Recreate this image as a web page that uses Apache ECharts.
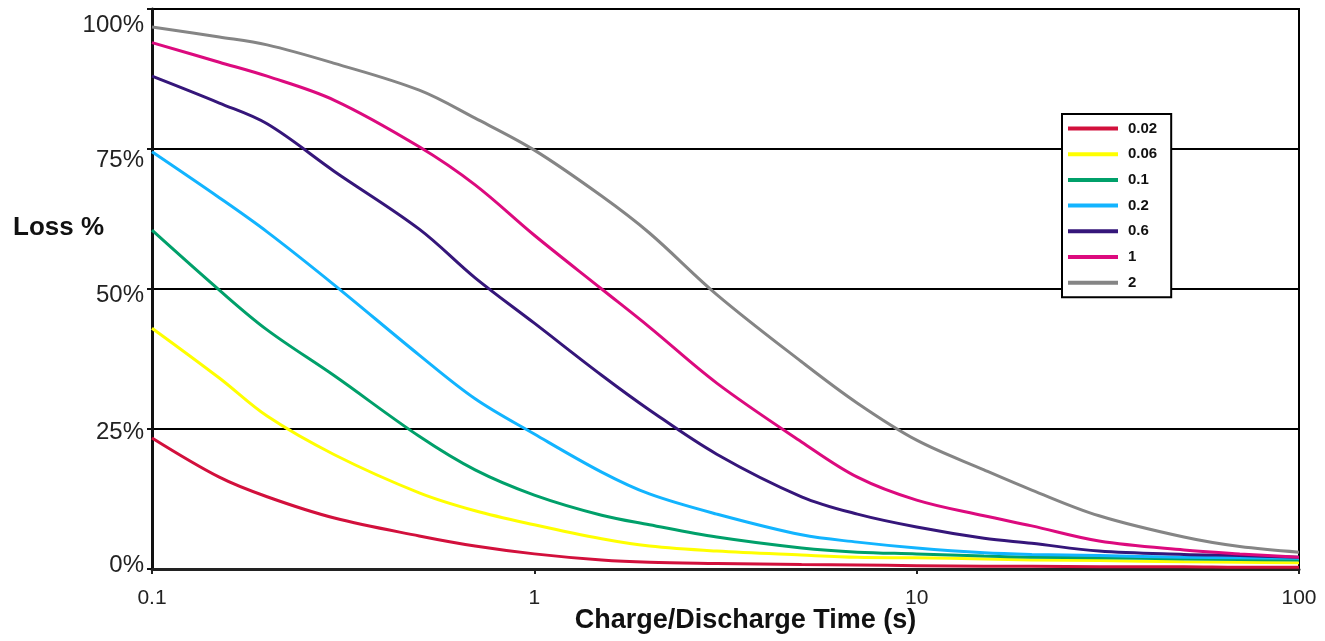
<!DOCTYPE html>
<html>
<head>
<meta charset="utf-8">
<script src="https://cdn.jsdelivr.net/npm/echarts@6/dist/echarts.min.js"></script>
<style>
html,body{margin:0;padding:0;background:#fff;}
#chart{width:1325px;height:641px;}
</style>
</head>
<body>
<div id="chart"></div>
<script>
// Charge/Discharge time (s)
const times = [0.1, 0.15, 0.2, 0.3, 0.5, 0.7, 1, 1.5, 2, 3, 5, 7, 10, 15, 20, 30, 50, 70, 100];
const seriesNames = ['0.02', '0.06', '0.1', '0.2', '0.6', '1', '2'];
// Loss fraction for each series
const loss002 = [0.234, 0.164, 0.129, 0.091, 0.059, 0.041, 0.027, 0.016, 0.012, 0.010, 0.008, 0.007, 0.006, 0.005, 0.005, 0.004, 0.004, 0.003, 0.003];
const loss006 = [0.430, 0.341, 0.273, 0.204, 0.136, 0.104, 0.079, 0.054, 0.041, 0.032, 0.025, 0.021, 0.020, 0.018, 0.016, 0.015, 0.013, 0.012, 0.011];
const loss01  = [0.605, 0.498, 0.427, 0.345, 0.237, 0.177, 0.132, 0.096, 0.079, 0.057, 0.0375, 0.030, 0.027, 0.023, 0.021, 0.020, 0.018, 0.017, 0.016];
const loss02  = [0.745, 0.663, 0.602, 0.507, 0.382, 0.304, 0.241, 0.173, 0.134, 0.098, 0.061, 0.048, 0.0375, 0.029, 0.026, 0.024, 0.021, 0.020, 0.019];
const loss06  = [0.880, 0.832, 0.795, 0.710, 0.607, 0.520, 0.439, 0.346, 0.284, 0.205, 0.129, 0.098, 0.075, 0.055, 0.046, 0.032, 0.026, 0.024, 0.021];
const loss1   = [0.940, 0.905, 0.880, 0.837, 0.754, 0.686, 0.596, 0.500, 0.432, 0.332, 0.227, 0.164, 0.123, 0.095, 0.077, 0.050, 0.034, 0.027, 0.021];
const loss2   = [0.968, 0.950, 0.936, 0.903, 0.855, 0.805, 0.748, 0.666, 0.600, 0.490, 0.370, 0.296, 0.230, 0.177, 0.141, 0.095, 0.057, 0.040, 0.030];
const yTicks = [0, 0.25, 0.5, 0.75, 1];
const xTickLabels = {'0.1': '0.1', '1': '1', '10': '10', '100': '100'};

const allLoss = [loss002, loss006, loss01, loss02, loss06, loss1, loss2];
const colors = ['#d2103c', '#ffff00', '#00a06a', '#12b4ff', '#35167a', '#dc0a7e', '#858585'];

// y label vertical nudges (the original's labels sit slightly below their gridlines)
const yLabelStyle = {
  l0:   {padding: [0, 0, 8, 0]},
  l25:  {padding: [6, 0, 0, 0]},
  l50:  {padding: [12, 0, 0, 0]},
  l75:  {padding: [22, 0, 0, 0]},
  l100: {padding: [32, 0, 0, 0]}
};
const yLabelKey = {0: 'l0', 25: 'l25', 50: 'l50', 75: 'l75', 100: 'l100'};

const chart = echarts.init(document.getElementById('chart'));
chart.setOption({
  animation: false,
  backgroundColor: '#fff',
  color: colors,
  title: {
    text: 'Loss %',
    left: 8, top: 210,
    textStyle: {fontFamily: 'Liberation Sans', fontWeight: 'bold', fontSize: 26, color: '#111'}
  },
  grid: {left: 152, right: 26, top: 9, bottom: 72, outerBoundsMode: 'none', containLabel: false,
    show: true, borderColor: '#000', borderWidth: 2, backgroundColor: 'transparent'},
  legend: {
    orient: 'vertical',
    left: 1062, top: 114,
    padding: [7, 14, 7, 6],
    itemWidth: 50, itemHeight: 4,
    itemGap: 10.7,
    icon: 'rect',
    backgroundColor: '#fff',
    borderColor: '#000', borderWidth: 2,
    textStyle: {fontFamily: 'Liberation Sans', fontWeight: 'bold', fontSize: 15, lineHeight: 14, color: '#111', padding: [0, 0, 0, 5]},
    data: seriesNames
  },
  xAxis: {
    type: 'log', logBase: 10, min: 0.1, max: 100,
    name: 'Charge/Discharge Time (s)', nameLocation: 'middle', nameGap: 38, nameMoveOverlap: false,
    nameTextStyle: {fontFamily: 'Liberation Sans', fontWeight: 'bold', fontSize: 27, color: '#111', padding: [0, 0, 0, 40]},
    axisLine: {show: true, lineStyle: {color: '#222', width: 3}},
    axisTick: {show: true, length: 5, lineStyle: {color: '#222', width: 2}},
    minorTick: {show: false},
    splitLine: {show: false},
    axisLabel: {fontFamily: 'Liberation Sans', fontSize: 21, color: '#222', margin: 19,
      formatter: v => xTickLabels[String(v)] !== undefined ? xTickLabels[String(v)] : String(v)}
  },
  yAxis: {
    type: 'value', min: yTicks[0], max: yTicks[yTicks.length - 1], interval: 0.25,
    axisLine: {show: true, lineStyle: {color: '#111', width: 3}},
    axisTick: {show: true, length: 5, lineStyle: {color: '#111', width: 2}},
    splitLine: {show: true, lineStyle: {color: '#000', width: 2}},
    axisLabel: {fontFamily: 'Liberation Sans', fontSize: 24, color: '#222', margin: 8,
      rich: yLabelStyle,
      formatter: v => { const p = Math.round(v * 100); return '{' + yLabelKey[p] + '|' + p + '%}'; }}
  },
  series: seriesNames.map((n, i) => ({
    name: n,
    type: 'line',
    smooth: 0.35,
    showSymbol: false,
    symbol: 'none',
    lineStyle: {width: 3, color: colors[i]},
    itemStyle: {color: colors[i]},
    data: times.map((t, j) => [t, allLoss[i][j]])
  }))
});
</script>
</body>
</html>
